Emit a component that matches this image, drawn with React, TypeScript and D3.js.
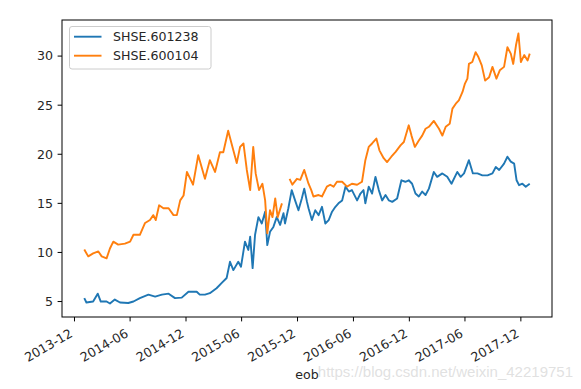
import { useEffect, useRef } from "react";
import * as d3 from "d3";

// SHSE.601238 (blue)
const dates601238 = [
  "2014-01-02", "2014-01-09", "2014-01-31", "2014-02-15", "2014-02-25", "2014-03-16", "2014-03-27",
  "2014-04-12", "2014-04-29", "2014-05-26", "2014-06-12", "2014-07-03", "2014-07-31", "2014-08-22",
  "2014-09-13", "2014-10-05", "2014-10-26", "2014-11-17", "2014-12-09", "2015-01-05", "2015-01-15",
  "2015-02-01", "2015-02-17", "2015-03-11", "2015-03-28", "2015-04-13", "2015-04-24", "2015-05-05",
  "2015-05-21", "2015-05-30", "2015-06-12", "2015-06-23", "2015-06-29", "2015-07-07", "2015-07-15",
  "2015-07-26", "2015-08-06", "2015-08-17", "2015-08-24", "2015-09-02", "2015-09-13", "2015-09-24",
  "2015-10-05", "2015-10-16", "2015-10-21", "2015-11-01", "2015-11-12", "2015-11-23", "2015-12-04",
  "2015-12-15", "2015-12-23", "2016-01-01", "2016-01-06", "2016-01-17", "2016-01-28", "2016-02-08",
  "2016-02-19", "2016-03-01", "2016-03-12", "2016-03-23", "2016-04-03", "2016-04-13", "2016-04-25",
  "2016-05-06", "2016-05-17", "2016-05-27", "2016-06-13", "2016-06-24", "2016-07-04", "2016-07-10",
  "2016-07-21", "2016-08-01", "2016-08-12", "2016-08-23", "2016-09-03", "2016-09-14", "2016-09-25",
  "2016-10-06", "2016-10-22", "2016-11-05", "2016-11-18", "2016-11-29", "2016-12-10", "2016-12-21",
  "2017-01-01", "2017-01-12", "2017-01-23", "2017-02-03", "2017-02-19", "2017-03-02", "2017-03-19",
  "2017-04-04", "2017-04-18", "2017-05-07", "2017-05-18", "2017-05-29", "2017-06-14", "2017-06-27",
  "2017-07-12", "2017-07-28", "2017-08-14", "2017-08-30", "2017-09-10", "2017-09-21", "2017-10-07",
  "2017-10-18", "2017-10-29", "2017-11-09", "2017-11-17", "2017-11-25", "2017-12-06", "2017-12-17",
  "2017-12-30",
];
const values601238 = [
  5.35, 4.9, 5.0, 5.8, 5.0, 5.0, 4.8,
  5.2, 4.9, 4.85, 5.0, 5.35, 5.7, 5.5,
  5.7, 5.8, 5.35, 5.4, 6.0, 6.0, 5.7,
  5.7, 5.85, 6.35, 6.9, 7.4, 9.05, 8.2,
  9.05, 8.55, 11.1, 10.25, 11.6, 8.4, 11.8,
  13.6, 12.95, 14.15, 10.75, 12.1, 12.6, 13.6,
  12.8, 14.0, 12.95, 14.5, 16.35, 15.3, 14.3,
  15.5, 16.5, 15.15, 14.5, 13.3, 14.3, 13.8,
  14.65, 12.95, 13.3, 14.15, 14.65, 15.0, 15.3,
  16.7, 16.2, 16.35, 15.3, 16.0, 16.35, 15.0,
  16.7, 16.0, 17.7, 16.35, 15.3, 15.85, 15.3,
  15.15, 15.5, 17.35, 17.2, 17.35, 17.0, 16.0,
  15.7, 16.2, 15.85, 16.5, 18.2, 17.7, 18.05,
  17.7, 17.0, 18.2, 17.7, 18.05, 19.4, 18.05,
  18.05, 17.85, 17.85, 18.05, 18.7, 18.4, 19.05,
  19.75, 19.25, 19.05, 17.35, 16.85, 17.0, 16.7,
  17.0,
];

// SHSE.600104 (orange), null = suspended
const dates600104 = [
  "2014-01-02", "2014-01-15", "2014-01-31", "2014-02-17", "2014-02-28", "2014-03-16", "2014-03-27",
  "2014-04-07", "2014-04-23", "2014-05-15", "2014-06-01", "2014-06-12", "2014-07-03", "2014-07-20",
  "2014-08-05", "2014-08-16", "2014-08-24", "2014-09-04", "2014-09-18", "2014-10-05", "2014-10-21",
  "2014-11-01", "2014-11-12", "2014-11-23", "2014-12-04", "2014-12-15", "2014-12-24", "2015-01-10",
  "2015-01-21", "2015-02-01", "2015-02-17", "2015-03-06", "2015-03-22", "2015-04-02", "2015-04-18",
  "2015-04-29", "2015-05-16", "2015-05-27", "2015-06-07", "2015-06-18", "2015-06-29", "2015-07-09",
  "2015-07-17", "2015-07-28", "2015-08-08", "2015-08-17", "2015-08-24", "2015-09-02", "2015-09-10",
  "2015-09-19", "2015-09-27", "2015-10-11", "2015-10-20", "2015-11-05", "2015-11-14", "2015-11-29",
  "2015-12-10", "2015-12-23", "2016-01-06", "2016-01-15", "2016-01-22", "2016-02-08", "2016-02-19",
  "2016-03-06", "2016-03-17", "2016-03-28", "2016-04-08", "2016-04-25", "2016-05-11", "2016-05-27",
  "2016-06-13", "2016-06-29", "2016-07-10", "2016-07-21", "2016-08-01", "2016-08-15", "2016-08-25",
  "2016-09-08", "2016-09-19", "2016-10-03", "2016-10-17", "2016-11-02", "2016-11-13", "2016-11-29",
  "2016-12-08", "2016-12-19", "2017-01-01", "2017-01-12", "2017-01-23", "2017-02-03", "2017-02-19",
  "2017-03-08", "2017-03-19", "2017-03-30", "2017-04-12", "2017-04-21", "2017-05-02", "2017-05-12",
  "2017-05-24", "2017-06-01", "2017-06-09", "2017-06-14", "2017-06-25", "2017-07-06", "2017-07-15",
  "2017-07-26", "2017-08-06", "2017-08-19", "2017-08-30", "2017-09-12", "2017-09-23", "2017-10-07",
  "2017-10-18", "2017-10-29", "2017-11-06", "2017-11-15", "2017-11-23", "2017-12-01", "2017-12-12",
  "2017-12-23", "2017-12-30",
];
const values600104 = [
  10.3, 9.6, 9.9, 10.1, 9.6, 9.4, 10.4,
  11.1, 10.8, 10.9, 11.1, 11.8, 11.8, 13.0,
  13.3, 13.8, 13.3, 14.8, 14.5, 14.5, 13.8,
  13.8, 15.3, 15.8, 18.2, 17.5, 16.9, 19.9,
  18.7, 17.5, 19.4, 18.2, 20.2, 20.2, 22.4,
  21.1, 19.1, 20.75, 21.1, 18.4, 16.35, 20.75,
  18.05, 16.35, 17.0, 15.3, 11.95, 14.3, 13.6,
  15.5, 13.6, 15.0, null, 17.5, 16.9, 17.5,
  17.4, 18.4, 17.0, 16.35, 15.7, 15.85, 15.7,
  16.7, 16.9, 16.7, 17.2, 17.2, 16.7, 17.0,
  16.9, 17.2, 19.4, 20.75, 21.1, 21.6, 20.4,
  19.6, 19.2, 19.75, 20.25, 20.9, 21.25, 22.95,
  21.9, 20.75, 21.4, 21.9, 22.6, 22.8, 23.4,
  22.6, 21.9, 22.8, 23.1, 24.65, 25.15, 25.5,
  26.35, 27.2, 27.7, 29.2, 29.4, 30.4, 29.9,
  29.05, 27.5, 27.85, 28.9, 27.7, 28.55, 28.9,
  30.9, 30.25, 29.2, 31.1, 32.3, 29.4, 30.1,
  29.55, 30.25,
];

const seriesNames = ["SHSE.601238", "SHSE.600104"];
const seriesColors = ["#1f77b4", "#ff7f0e"];
const xTickLabels = [
  "2013-12", "2014-06", "2014-12", "2015-06", "2015-12",
  "2016-06", "2016-12", "2017-06", "2017-12",
];
const yTickValues = [5, 10, 15, 20, 25, 30];

export default function App() {
  const ref = useRef<SVGSVGElement>(null);

  useEffect(() => {
    const width = 581;
    const height = 389;
    const margin = { top: 20, right: 29, bottom: 72, left: 62 };
    const font = "'DejaVu Sans', sans-serif";

    const svg = d3.select(ref.current);
    svg.selectAll("*").remove();

    const parseDay = d3.timeParse("%Y-%m-%d");
    const parseMonth = d3.timeParse("%Y-%m");

    const series = [
      dates601238.map((d, i) => ({ date: parseDay(d)!, value: values601238[i] })),
      dates600104.map((d, i) => ({ date: parseDay(d)!, value: values600104[i] })),
    ];

    const allDates = series.flat().map((d) => d.date.getTime());
    const allValues = series.flat().filter((d) => d.value != null).map((d) => d.value as number);
    const [t0, t1] = d3.extent(allDates) as [number, number];
    const [v0, v1] = d3.extent(allValues) as [number, number];
    const tp = (t1 - t0) * 0.05;
    const vp = (v1 - v0) * 0.05;

    const x = d3
      .scaleTime()
      .domain([new Date(t0 - tp), new Date(t1 + tp)])
      .range([margin.left, width - margin.right]);
    const y = d3
      .scaleLinear()
      .domain([v0 - vp, v1 + vp])
      .range([height - margin.bottom, margin.top]);

    const bottom = height - margin.bottom;

    const line = d3
      .line<{ date: Date; value: number | null }>()
      .defined((d) => d.value != null)
      .x((d) => x(d.date))
      .y((d) => y(d.value as number));

    series.forEach((s, i) => {
      svg
        .append("path")
        .datum(s)
        .attr("d", line)
        .attr("fill", "none")
        .attr("stroke", seriesColors[i])
        .attr("stroke-width", 1.9)
        .attr("stroke-linejoin", "round");
    });

    // frame
    svg
      .append("rect")
      .attr("x", margin.left)
      .attr("y", margin.top)
      .attr("width", width - margin.left - margin.right)
      .attr("height", bottom - margin.top)
      .attr("fill", "none")
      .attr("stroke", "#000")
      .attr("stroke-width", 1);

    // y ticks
    yTickValues.forEach((v) => {
      const yy = y(v);
      svg
        .append("line")
        .attr("x1", margin.left - 4.4)
        .attr("x2", margin.left)
        .attr("y1", yy)
        .attr("y2", yy)
        .attr("stroke", "#000");
      svg
        .append("text")
        .attr("x", margin.left - 9)
        .attr("y", yy)
        .attr("dy", "0.35em")
        .attr("text-anchor", "end")
        .attr("font-family", font)
        .attr("font-size", 12.6)
        .attr("fill", "#262626")
        .text(v);
    });

    // x ticks
    xTickLabels.forEach((label) => {
      const xx = x(parseMonth(label)!);
      svg
        .append("line")
        .attr("x1", xx)
        .attr("x2", xx)
        .attr("y1", bottom)
        .attr("y2", bottom + 4.4)
        .attr("stroke", "#000");
      svg
        .append("text")
        .attr("transform", `translate(${xx - 1},${bottom + 19}) rotate(-30)`)
        .attr("text-anchor", "end")
        .attr("font-family", font)
        .attr("font-size", 12.6)
        .attr("fill", "#262626")
        .text(label);
    });

    svg
      .append("text")
      .attr("x", (margin.left + width - margin.right) / 2)
      .attr("y", 379)
      .attr("text-anchor", "middle")
      .attr("font-family", font)
      .attr("font-size", 12.6)
      .attr("fill", "#262626")
      .text("eob");

    // legend
    const lg = svg.append("g");
    lg.append("rect")
      .attr("x", 69.5)
      .attr("y", 26.5)
      .attr("width", 141.5)
      .attr("height", 42.5)
      .attr("rx", 2.5)
      .attr("fill", "#fff")
      .attr("fill-opacity", 0.8)
      .attr("stroke", "#cccccc");
    seriesNames.forEach((name, i) => {
      const ly = 36.7 + i * 19;
      lg.append("line")
        .attr("x1", 74)
        .attr("x2", 101.5)
        .attr("y1", ly)
        .attr("y2", ly)
        .attr("stroke", seriesColors[i])
        .attr("stroke-width", 1.9);
      lg.append("text")
        .attr("x", 113)
        .attr("y", ly)
        .attr("dy", "0.35em")
        .attr("font-family", font)
        .attr("font-size", 12.6)
        .attr("fill", "#262626")
        .text(name);
    });

    // watermark
    svg
      .append("text")
      .attr("x", 573)
      .attr("y", 377)
      .attr("text-anchor", "end")
      .attr("font-family", "'Liberation Sans', Arial, sans-serif")
      .attr("font-size", 15)
      .attr("fill", "#d9d9d9")
      .attr("fill-opacity", 0.8)
      .text("https://blog.csdn.net/weixin_42219751");
  }, []);

  return (
    <svg
      ref={ref}
      width={581}
      height={389}
      style={{ position: "absolute", left: 0, top: 0, background: "#fff" }}
    />
  );
}
